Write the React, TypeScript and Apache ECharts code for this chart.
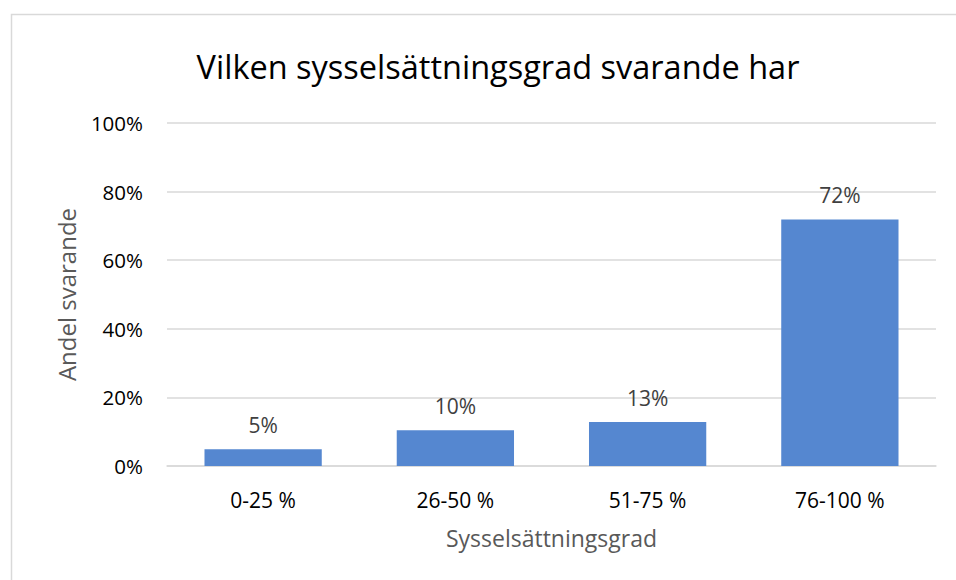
import React, { useEffect, useRef } from "react";
import * as echarts from "echarts";

const categories = ["0-25 %", "26-50 %", "51-75 %", "76-100 %"];
const values = [4.9, 10.4, 12.8, 71.9];
const valueLabels = ["5%", "10%", "13%", "72%"];
const yTicks = [0, 20, 40, 60, 80, 100];

const titleText = "Vilken sysselsättningsgrad svarande har";
const xName = "Sysselsättningsgrad";
const yName = "Andel svarande";

const FONT = "'Open Sans', 'Noto Sans', sans-serif";

export default function App() {
  const ref = useRef<HTMLDivElement>(null);
  useEffect(() => {
    if (!ref.current) return;
    const chart = echarts.init(ref.current, undefined, { renderer: "svg" });
    chart.setOption({
      animation: false,
      backgroundColor: "#ffffff",
      textStyle: { fontFamily: FONT },
      title: {
        text: titleText,
        left: 493,
        top: 45,
        textAlign: "center",
        textStyle: { fontFamily: FONT, fontSize: 32.5, fontWeight: "normal", color: "#000000" },
      },
      graphic: [
        {
          type: "rect",
          shape: { x: 11.5, y: 14.5, width: 1000, height: 700 },
          style: { fill: "none", stroke: "#d9d9d9", lineWidth: 1.5 },
          silent: true,
        },
      ],
      grid: { left: 167, right: 20, top: 123, bottom: 114, containLabel: false },
      xAxis: {
        type: "category",
        data: categories,
        name: xName,
        nameLocation: "middle",
        nameGap: 60,
        nameTextStyle: { fontFamily: FONT, fontSize: 23, color: "#595959" },
        axisLine: { show: true, lineStyle: { color: "#d9d9d9", width: 1.5 } },
        axisTick: { show: false },
        axisLabel: { fontFamily: FONT, fontSize: 21, color: "#000000", margin: 23 },
      },
      yAxis: {
        type: "value",
        min: 0,
        max: 100,
        interval: 20,
        name: yName,
        nameLocation: "middle",
        nameGap: 89,
        nameTextStyle: { fontFamily: FONT, fontSize: 24, color: "#595959" },
        axisLine: { show: false },
        axisTick: { show: false },
        splitLine: { lineStyle: { color: "#d9d9d9", width: 1.5 } },
        axisLabel: {
          fontFamily: FONT,
          fontSize: 20.5,
          color: "#000000",
          margin: 24,
          formatter: (v: number) => (yTicks.includes(v) ? `${v}%` : ""),
        },
      },
      series: [
        {
          type: "bar",
          data: values,
          barCategoryGap: "39%",
          itemStyle: { color: "#5587d0" },
          label: {
            show: true,
            position: "top",
            distance: 14,
            fontFamily: FONT,
            fontSize: 21,
            color: "#404040",
            formatter: (p: any) => valueLabels[p.dataIndex],
          },
        },
      ],
    });
    return () => chart.dispose();
  }, []);
  return (
    <div
      ref={ref}
      style={{ position: "fixed", left: 0, top: 0, width: 956, height: 580 }}
    />
  );
}
